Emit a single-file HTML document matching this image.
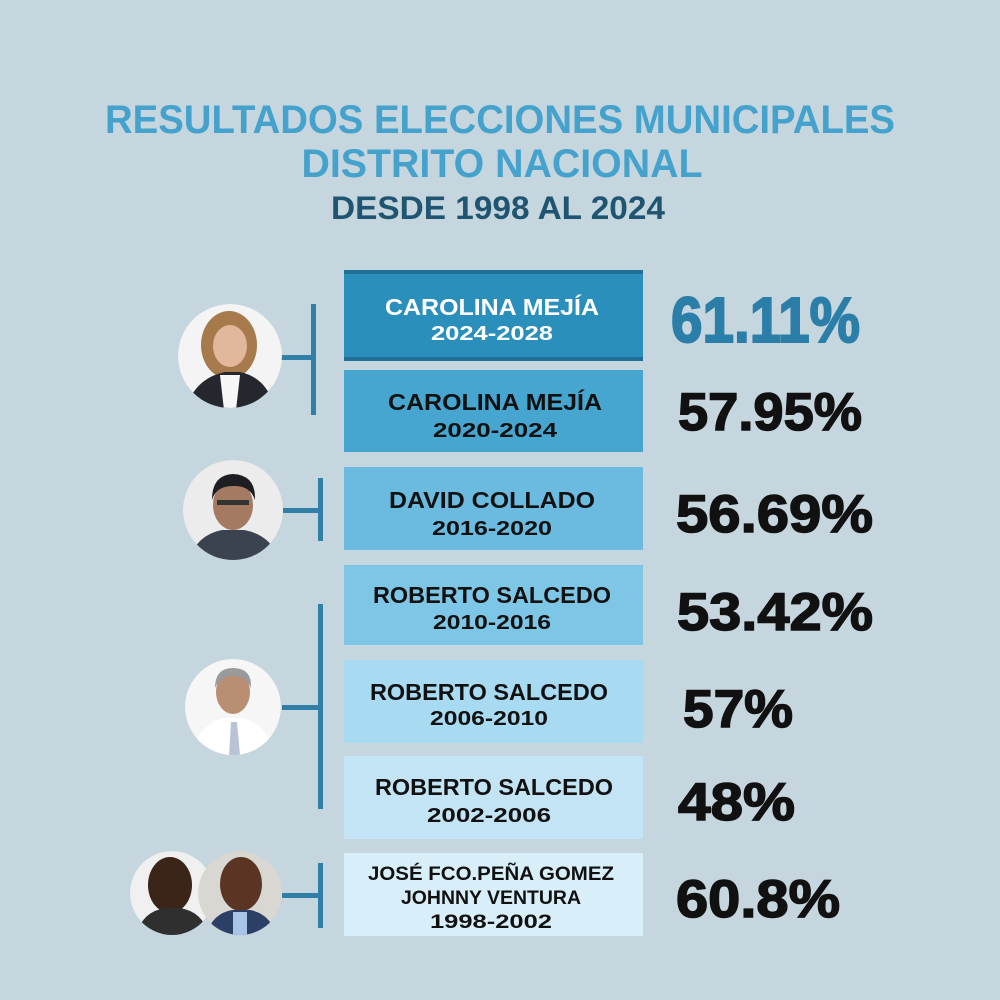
<!DOCTYPE html>
<html><head><meta charset="utf-8"><style>html,body{margin:0;padding:0;background:#c5d6de}svg{display:block}</style></head>
<body>
<svg width="1000" height="1000" viewBox="0 0 1000 1000" xmlns="http://www.w3.org/2000/svg" font-family="Liberation Sans, Arial, sans-serif" font-weight="bold">
<rect width="1000" height="1000" fill="#c5d6de"/>
<text x="500" y="133" text-anchor="middle" font-size="40" fill="#45a2cc" textLength="790" lengthAdjust="spacingAndGlyphs">RESULTADOS ELECCIONES MUNICIPALES</text>
<text x="502" y="177" text-anchor="middle" font-size="40" fill="#45a2cc" textLength="401" lengthAdjust="spacingAndGlyphs">DISTRITO NACIONAL</text>
<text x="498" y="219" text-anchor="middle" font-size="32" fill="#1f5571" textLength="334" lengthAdjust="spacingAndGlyphs">DESDE 1998 AL 2024</text>

<rect x="344" y="270" width="299" height="91" fill="#2b8fbc"/>
<rect x="344" y="270" width="299" height="4" fill="#1f6f96"/>
<rect x="344" y="357" width="299" height="4" fill="#1f6f96"/>
<rect x="344" y="370" width="299" height="82" fill="#46a6d0"/>
<rect x="344" y="467" width="299" height="83" fill="#6bbbe0"/>
<rect x="344" y="565" width="299" height="80" fill="#7ec6e6"/>
<rect x="344" y="660" width="299" height="83" fill="#a8daf1"/>
<rect x="344" y="756" width="299" height="83" fill="#c3e4f4"/>
<rect x="344" y="853" width="299" height="83" fill="#d8eef8"/>

<g font-size="23" text-anchor="middle" fill="#111">
<text x="492" y="315" fill="#fff" textLength="214" lengthAdjust="spacingAndGlyphs">CAROLINA MEJÍA</text>
<text x="492" y="340" fill="#fff" font-size="20" textLength="122" lengthAdjust="spacingAndGlyphs">2024-2028</text>
<text x="495" y="410" textLength="214" lengthAdjust="spacingAndGlyphs">CAROLINA MEJÍA</text>
<text x="495" y="437" font-size="20" textLength="124" lengthAdjust="spacingAndGlyphs">2020-2024</text>
<text x="492" y="508" textLength="206" lengthAdjust="spacingAndGlyphs">DAVID COLLADO</text>
<text x="492" y="535" font-size="20" textLength="120" lengthAdjust="spacingAndGlyphs">2016-2020</text>
<text x="492" y="603" textLength="238" lengthAdjust="spacingAndGlyphs">ROBERTO SALCEDO</text>
<text x="492" y="629" font-size="20" textLength="118" lengthAdjust="spacingAndGlyphs">2010-2016</text>
<text x="489" y="700" textLength="238" lengthAdjust="spacingAndGlyphs">ROBERTO SALCEDO</text>
<text x="489" y="725" font-size="20" textLength="118" lengthAdjust="spacingAndGlyphs">2006-2010</text>
<text x="494" y="795" textLength="238" lengthAdjust="spacingAndGlyphs">ROBERTO SALCEDO</text>
<text x="489" y="822" font-size="20" textLength="124" lengthAdjust="spacingAndGlyphs">2002-2006</text>
<text x="491" y="880" font-size="19" textLength="246" lengthAdjust="spacingAndGlyphs">JOSÉ FCO.PEÑA GOMEZ</text>
<text x="491" y="904" font-size="19" textLength="180" lengthAdjust="spacingAndGlyphs">JOHNNY VENTURA</text>
<text x="491" y="928" font-size="19" textLength="122" lengthAdjust="spacingAndGlyphs">1998-2002</text>
</g>

<text x="671" y="342" font-size="64" fill="#2a7ea8" stroke="#2a7ea8" stroke-width="2" textLength="189" lengthAdjust="spacingAndGlyphs">61.11%</text>
<g font-size="53" fill="#111" stroke="#111" stroke-width="1.5">
<text x="678" y="430" textLength="184" lengthAdjust="spacingAndGlyphs">57.95%</text>
<text x="676" y="532" textLength="197" lengthAdjust="spacingAndGlyphs">56.69%</text>
<text x="677" y="630" textLength="196" lengthAdjust="spacingAndGlyphs">53.42%</text>
<text x="683" y="727" textLength="110" lengthAdjust="spacingAndGlyphs">57%</text>
<text x="678" y="820" textLength="117" lengthAdjust="spacingAndGlyphs">48%</text>
<text x="676" y="917" textLength="164" lengthAdjust="spacingAndGlyphs">60.8%</text>
</g>

<g fill="#2f7fa6">
<rect x="311" y="304" width="5" height="111"/>
<rect x="280" y="355" width="33" height="5"/>
<rect x="318" y="478" width="5" height="63"/>
<rect x="283" y="508" width="37" height="5"/>
<rect x="318" y="604" width="5" height="205"/>
<rect x="282" y="705" width="38" height="5"/>
<rect x="318" y="863" width="5" height="65"/>
<rect x="282" y="893" width="38" height="5"/>
</g>

<defs>
<clipPath id="c1"><circle cx="230" cy="356" r="52"/></clipPath>
<clipPath id="c2"><circle cx="233" cy="510" r="50"/></clipPath>
<clipPath id="c3"><circle cx="233" cy="707" r="48"/></clipPath>
<clipPath id="c4"><circle cx="172" cy="893" r="42"/></clipPath>
<clipPath id="c5"><circle cx="240" cy="893" r="42"/></clipPath>
</defs>
<g clip-path="url(#c1)">
<circle cx="230" cy="356" r="52" fill="#f4f4f4"/>
<ellipse cx="229" cy="345" rx="28" ry="34" fill="#a77a4c"/>
<ellipse cx="230" cy="346" rx="17" ry="21" fill="#e2b79c"/>
<path d="M185 410 Q195 378 225 372 L240 372 Q268 378 275 410 Z" fill="#25272e"/>
<path d="M220 375 L240 375 L236 410 L224 410 Z" fill="#f6f6f6"/>
</g>
<g clip-path="url(#c2)">
<circle cx="233" cy="510" r="50" fill="#ececec"/>
<path d="M188 562 Q196 535 222 530 L244 530 Q272 535 280 562 Z" fill="#3b4350"/>
<ellipse cx="233" cy="505" rx="20" ry="25" fill="#a57a62"/>
<path d="M212 500 Q212 475 233 474 Q256 475 255 500 Q250 485 233 486 Q216 486 212 500Z" fill="#1e1e22"/>
<rect x="217" y="500" width="32" height="5" fill="#333"/>
</g>
<g clip-path="url(#c3)">
<circle cx="233" cy="707" r="48" fill="#f6f6f6"/>
<ellipse cx="233" cy="692" rx="17" ry="22" fill="#b98e73"/>
<path d="M215 688 Q215 668 233 668 Q252 668 251 688 Q246 676 233 676 Q220 676 215 688Z" fill="#9a9a9a"/>
<path d="M190 760 Q196 725 225 718 L242 718 Q270 725 276 760 Z" fill="#ffffff"/>
<path d="M231 722 L237 722 L240 755 L229 755 Z" fill="#b9c3d6"/>
</g>
<g clip-path="url(#c4)">
<circle cx="172" cy="893" r="42" fill="#f0f0f0"/>
<ellipse cx="170" cy="885" rx="22" ry="28" fill="#3b2418"/>
<path d="M135 940 Q140 912 165 908 L180 908 Q205 912 210 940Z" fill="#2f2f2f"/>
</g>
<g clip-path="url(#c5)">
<circle cx="240" cy="893" r="42" fill="#d9d7d2"/>
<ellipse cx="241" cy="884" rx="21" ry="27" fill="#5a3524"/>
<path d="M205 940 Q210 914 232 910 L250 910 Q272 914 278 940Z" fill="#2c3f66"/>
<rect x="233" y="912" width="14" height="26" fill="#a8c4e6"/>
</g>
</svg>
</body></html>
